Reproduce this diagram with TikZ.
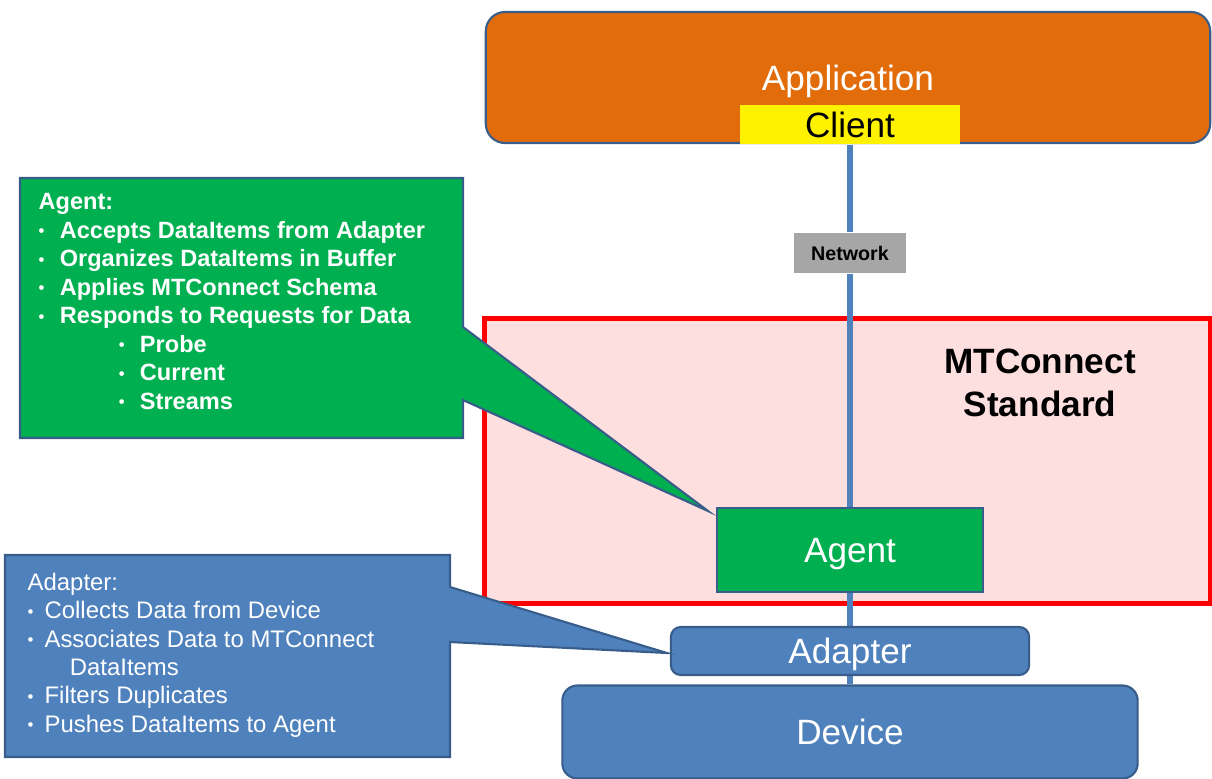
\documentclass[tikz,border=0pt]{standalone}
\usepackage{fontspec}
\setmainfont{Liberation Sans}
\usepackage{tikz}
\usetikzlibrary{backgrounds}
\definecolor{appOrange}{RGB}{227,108,10}
\definecolor{boxBlue}{RGB}{79,129,189}
\definecolor{edgeBlue}{RGB}{56,93,138}
\definecolor{agentGreen}{RGB}{0,176,80}
\definecolor{stdPink}{RGB}{253,223,223}
\definecolor{netGray}{RGB}{166,166,166}
\newcommand{\dotb}{\raisebox{0.12ex}{\scalebox{0.7}{\textbullet}}}
\newcommand{\itm}[1]{\makebox[6pt][l]{\dotb}#1}
\newcommand{\aitm}[1]{\makebox[4.8pt][l]{\dotb}#1}

\begin{document}
\begin{tikzpicture}[x=0.01cm,y=-0.01cm,
  blk/.style={draw=edgeBlue,line width=0.6pt,inner sep=0pt,text height=7.2pt,text depth=0pt,font=\fontsize{10}{12}\selectfont},
  link/.style={draw=boxBlue,line width=1.5pt},
  callout/.style={draw=edgeBlue,line width=0.6pt,line join=miter}]
\useasboundingbox (0,0) rectangle (1212,778);

\begin{pgfonlayer}{background}
\node[draw=red,line width=1.4pt,fill=stdPink,minimum width=7.25cm,minimum height=2.84cm] (std) at (847.5,461) {};
\end{pgfonlayer}
\node[font=\bfseries\fontsize{10}{12.2}\selectfont,align=center] (stdlbl) at (1040,383) {MTConnect\\Standard};

\node[blk,fill=appOrange,text=white,rounded corners=5.5pt,minimum width=7.24cm,minimum height=1.31cm] (app) at (848,77.5) {Application};
\node[fill=yellow,inner sep=0pt,minimum width=2.2cm,minimum height=0.39cm,font=\fontsize{10}{12}\selectfont] (client) at (850,124.5) {Client};
\node[fill=netGray,inner sep=0pt,minimum width=1.12cm,minimum height=0.4cm,font=\bfseries\fontsize{5.6}{6.7}\selectfont] (net) at (850,253) {Network};
\node[blk,fill=agentGreen,text=white,minimum width=2.65cm,minimum height=0.84cm] (agent) at (850,550) {Agent};
\node[blk,fill=boxBlue,text=white,rounded corners=2.8pt,minimum width=3.58cm,minimum height=0.48cm] (adapter) at (850,651) {Adapter};
\node[blk,fill=boxBlue,text=white,rounded corners=4.3pt,minimum width=5.75cm,minimum height=0.93cm] (device) at (850,732) {Device};

\begin{pgfonlayer}{background}
\draw[link] (client.south) -- (net.north) (net.south) -- (agent.north)
  (agent.south) -- (adapter.north) (adapter.south) -- (device.north);
\end{pgfonlayer}

\coordinate (agtip) at (708,511);
\draw[callout,fill=agentGreen] (20,178) -- (463,178) -- (463,327) -- (agtip) -- (463,400) -- (463,438) -- (20,438) -- cycle;
\node[anchor=north west,inner sep=0pt,text=white,align=left,font=\bfseries\fontsize{6.7}{8.1}\selectfont] (agtxt) at (38,193)
  {Agent:\\
   \itm{Accepts DataItems from Adapter}\\
   \itm{Organizes DataItems in Buffer}\\
   \itm{Applies MTConnect Schema}\\
   \itm{Responds to Requests for Data}\\
   \hspace*{22.8pt}\itm{Probe}\\
   \hspace*{22.8pt}\itm{Current}\\
   \hspace*{22.8pt}\itm{Streams}};

\coordinate (adtip) at (667,653);
\draw[callout,fill=boxBlue] (5,555) -- (450,555) -- (450,587) -- (adtip) -- (450,642) -- (450,757) -- (5,757) -- cycle;
\node[anchor=north west,inner sep=0pt,text=white,align=left,font=\fontsize{6.8}{8.1}\selectfont] (adtxt) at (27,572)
  {Adapter:\\
   \aitm{Collects Data from Device}\\
   \aitm{Associates Data to MTConnect}\\
   \hspace*{12pt}DataItems\\
   \aitm{Filters Duplicates}\\
   \aitm{Pushes DataItems to Agent}};
\end{tikzpicture}
\end{document}
